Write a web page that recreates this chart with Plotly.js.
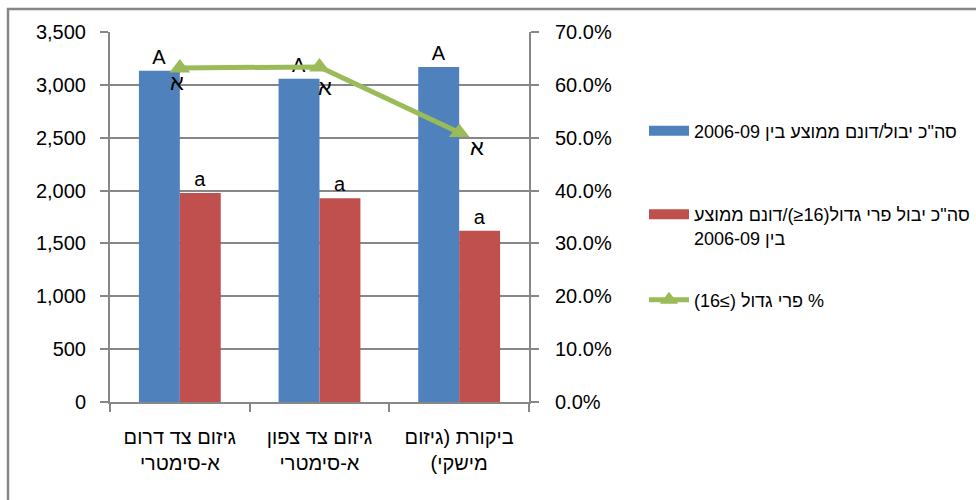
<!DOCTYPE html>
<html>
<head>
<meta charset="utf-8">
<script src="https://cdn.plot.ly/plotly-3.0.1.min.js"></script>
<style>html,body{margin:0;padding:0;background:#fff;}</style>
</head>
<body>
<div id="chart" style="width:976px;height:500px;"></div>
<script>
// ---- data ----
const categories = ['גיזום צד דרום<br>א-סימטרי', 'גיזום צד צפון<br>א-סימטרי', 'ביקורת (גיזום<br>מישקי)'];
const totalYield = [3134, 3057, 3169];
const largeFruitYield = [1977, 1927, 1620];
const largeFruitPct = [0.632, 0.634, 0.510];
const totalLabels = ['A', 'A', 'A'];
const largeLabels = ['a', 'a', 'a'];
const pctLabels = ['א', 'א', 'א'];
const seriesNames = [
  'סה"כ יבול/דונם ממוצע בין 2006-09',
  'סה"כ יבול פרי גדול(16≤)/דונם ממוצע<br>בין 2006-09',
  '% פרי גדול (≥16)'
];
const seriesColors = ['#4F81BD', '#C0504D', '#9BBB59'];

// ---- helpers ----
const RLE = '\u202B', PDF = '\u202C';
function rtl(s) { return s.split('<br>').map(l => RLE + l + PDF).join('<br>'); }

const gray = '#878787';
const font = 'Liberation Sans, Arial, DejaVu Sans, sans-serif';

const traces = [
  {
    type: 'bar', x: categories, y: totalYield, name: rtl(seriesNames[0]),
    marker: {color: seriesColors[0]}, text: totalLabels, textposition: 'outside',
    textangle: 0, outsidetextfont: {size: 20, color: '#000', family: font},
    cliponaxis: false, showlegend: false, hoverinfo: 'skip'
  },
  {
    type: 'bar', x: categories, y: largeFruitYield, name: rtl(seriesNames[1]),
    marker: {color: seriesColors[1]}, text: largeLabels, textposition: 'outside',
    textangle: 0, outsidetextfont: {size: 20, color: '#000', family: font},
    cliponaxis: false, showlegend: false, hoverinfo: 'skip'
  },
  {
    type: 'scatter', mode: 'lines+markers', x: categories, y: largeFruitPct,
    yaxis: 'y2', name: rtl(seriesNames[2]),
    line: {color: seriesColors[2], width: 5},
    marker: {symbol: 'triangle-up', size: 18, color: seriesColors[2]},
    cliponaxis: false, legend: 'legend3', hoverinfo: 'skip'
  },
  // legend keys for the two bar series (wide swatches as in the original)
  {
    type: 'scatter', mode: 'lines', x: [null], y: [null], name: rtl(seriesNames[0]),
    line: {color: seriesColors[0], width: 10}, legend: 'legend', hoverinfo: 'skip'
  },
  {
    type: 'scatter', mode: 'lines', x: [null], y: [null], name: rtl(seriesNames[1]),
    line: {color: seriesColors[1], width: 10}, legend: 'legend2', hoverinfo: 'skip'
  }
];

// label offsets (pixels) for the percent-series letters
const pctLabelShift = [[-3, -15], [5, -21], [18, -15]];
const annotations = categories.map((c, i) => ({
  x: c, y: largeFruitPct[i], xref: 'x', yref: 'y2', text: pctLabels[i],
  showarrow: false, xshift: pctLabelShift[i][0], yshift: pctLabelShift[i][1],
  font: {size: 22, color: '#000', family: font}
}));

const L = 110, R = 529, T = 32, B = 402;
const px = v => (v - L) / (R - L);
const py = v => (B - v) / (B - T);
const legendBase = {
  xanchor: 'left', yanchor: 'middle',
  font: {size: 18, family: font, color: '#000'},
  valign: 'top', itemwidth: 40, bgcolor: 'rgba(0,0,0,0)'
};

const layout = {
  width: 976, height: 500,
  margin: {l: L, r: 976 - R, t: T, b: 500 - B, pad: 0, autoexpand: false},
  paper_bgcolor: '#fff', plot_bgcolor: '#fff',
  font: {family: font, size: 20, color: '#000'},
  barmode: 'group', bargap: 0.414, bargroupgap: 0,
  showlegend: true,
  legend: Object.assign({}, legendBase, {x: px(644), y: py(131)}),
  legend2: Object.assign({}, legendBase, {x: px(644), y: py(226)}),
  legend3: Object.assign({}, legendBase, {x: px(644), y: py(300)}),
  annotations: annotations,
  xaxis: {
    type: 'category', tickvals: categories, ticktext: categories.map(rtl),
    tickson: 'boundaries', ticks: 'outside', ticklen: 8, tickwidth: 2, tickcolor: gray,
    showline: true, linecolor: gray, linewidth: 2, showgrid: false,
    tickfont: {size: 20, family: font}, ticklabelstandoff: 16, fixedrange: true
  },
  yaxis: {
    range: [0, 3500], dtick: 500, tick0: 0, tickformat: ',d',
    ticks: 'outside', ticklen: 8, tickwidth: 2, tickcolor: gray,
    showline: true, linecolor: gray, linewidth: 2,
    showgrid: true, gridcolor: gray, gridwidth: 2, zeroline: false,
    tickfont: {size: 20, family: font}, ticklabelstandoff: 10, fixedrange: true
  },
  yaxis2: {
    overlaying: 'y', side: 'right', range: [0, 0.7], dtick: 0.1, tick0: 0,
    tickformat: '.1%', ticks: 'outside', ticklen: 8, tickwidth: 2, tickcolor: gray,
    showline: true, linecolor: gray, linewidth: 2, showgrid: false, zeroline: false,
    tickfont: {size: 20, family: font}, ticklabelstandoff: 12, fixedrange: true
  },
  shapes: [{
    type: 'rect', xref: 'paper', yref: 'paper',
    x0: px(8), x1: px(1010), y0: py(520), y1: py(9),
    line: {color: gray, width: 2.5}, fillcolor: 'rgba(0,0,0,0)', layer: 'below'
  }]
};

Plotly.newPlot('chart', traces, layout, {displayModeBar: false, staticPlot: true});
</script>
</body>
</html>
